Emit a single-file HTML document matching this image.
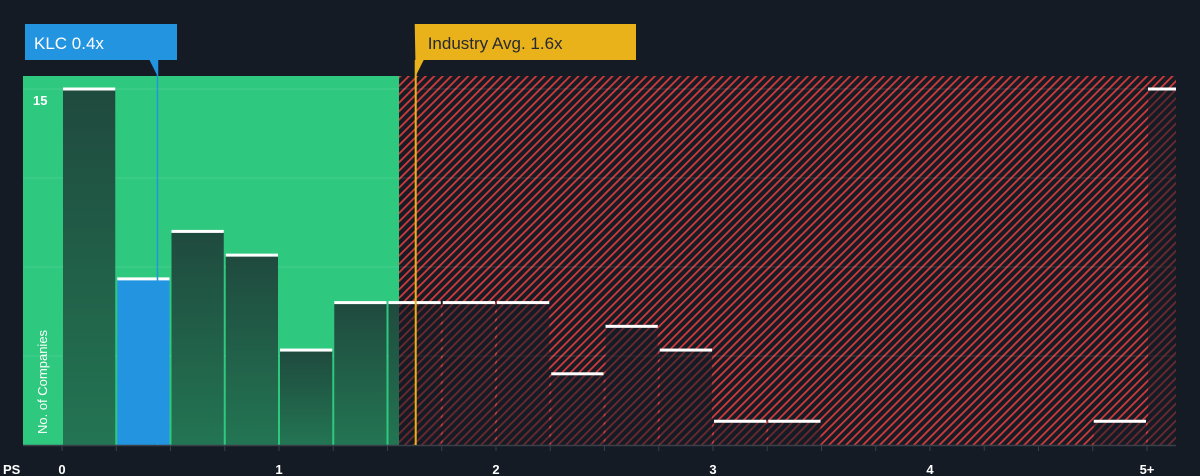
<!DOCTYPE html>
<html><head><meta charset="utf-8"><style>
html,body{margin:0;padding:0;background:#151b24;}
svg{display:block;font-family:"Liberation Sans",sans-serif;}
</style></head><body>
<svg id="chart" width="1200" height="476" viewBox="0 0 1200 476">
<defs>
<pattern id="hatch" patternUnits="userSpaceOnUse" width="6" height="6" patternTransform="rotate(45)">
<rect width="6" height="6" fill="#161b24"/>
<rect x="0" y="0" width="1.8" height="6" fill="#d23b3d"/>
</pattern>
<linearGradient id="barg" x1="0" y1="0" x2="0" y2="1">
<stop offset="0" stop-color="#1f4a3e"/><stop offset="1" stop-color="#237553"/>
</linearGradient>
</defs>
<g id="bg"></g>
<g id="grid"></g>
<g id="bars"></g>
<g id="axis"></g>
<g id="markers"></g>
</svg>
<script>
const binStarts=[0,0.25,0.5,0.75,1,1.25,1.5,1.75,2,2.25,2.5,2.75,3,3.25,3.5,3.75,4,4.25,4.5,4.75,5];
const counts=[15,7,9,8,4,6,6,6,6,3,5,4,1,1,0,0,0,0,0,1,15];
const xTicks=[0,1,2,3,4,5];
const xTickLabels=["0","1","2","3","4","5+"];
const companyValue=0.44;
const companyLabel="KLC 0.4x";
const industryAvg=1.63;
const industryLabel="Industry Avg. 1.6x";
const fairLimit=1.553;
const yMax=15;

const NS="http://www.w3.org/2000/svg";
const plotLeft=23,plotRight=1176,plotTop=76,plotBase=445;
const x0=62,pxPerUnit=217;
const X=v=>x0+v*pxPerUnit;
const Y=v=>plotBase-v*(plotBase-89)/yMax;
function mk(tag,attrs,parent){const e=document.createElementNS(NS,tag);for(const k in attrs)e.setAttribute(k,attrs[k]);parent.appendChild(e);return e;}
const gBg=document.getElementById('bg'),gGrid=document.getElementById('grid'),gBars=document.getElementById('bars'),gAxis=document.getElementById('axis'),gMarkers=document.getElementById('markers');

let r=mk('rect',{x:plotLeft,y:plotTop,width:X(fairLimit)-plotLeft,height:plotBase-plotTop,fill:'#2ec97e'},gBg);


r=mk('rect',{x:X(fairLimit),y:plotTop,width:plotRight-X(fairLimit),height:plotBase-plotTop,fill:'url(#hatch)'},gBg);



for(let k=1;k<=4;k++){
  const l=mk('line',{x1:plotLeft,x2:plotRight,y1:Y(yMax*k/4),y2:Y(yMax*k/4),stroke:'rgba(255,255,255,0.12)','stroke-width':1},gGrid);
  
  
}
let t=mk('text',{x:33,y:105,fill:'#fff','font-size':13,'font-weight':'bold'},gGrid);t.textContent=String(yMax);


t=mk('text',{x:0,y:0,fill:'#fff','font-size':13,transform:'translate(47,434) rotate(-90)'},gGrid);t.textContent="No. of Companies";



const bw=0.25*pxPerUnit;
counts.forEach((c,i)=>{
  if(c<=0)return;
  const xs=X(binStarts[i])+1, xe=Math.min(X(binStarts[i])+bw-1,plotRight);
  const w=xe-xs;
  const isCo=companyValue>=binStarts[i]&&companyValue<binStarts[i]+0.25;
  let fill;
  if(isCo)fill='#2394e0';else if(X(binStarts[i])+bw<=X(fairLimit)+2)fill='url(#barg)';else fill='rgba(22,27,36,0.55)';
  let bwid=w;
  const straddle=!isCo && X(binStarts[i])<X(fairLimit) && X(binStarts[i])+bw>X(fairLimit)+2;
  if(straddle){fill='url(#barg)';bwid=X(fairLimit)-xs;}
  const b=mk('rect',{x:xs,y:Y(c),width:bwid,height:plotBase-Y(c),fill:fill},gBars);
  
  
  if(straddle){
    const b2=mk('rect',{x:X(fairLimit),y:Y(c),width:xe-X(fairLimit),height:plotBase-Y(c),fill:'rgba(22,27,36,0.55)'},gBars);
    
    
  }
  const cap=mk('rect',{x:xs,y:Y(c)-1.5,width:w,height:3,fill:'#fff'},gBars);
  
  
});

let al=mk('line',{x1:plotLeft,x2:plotRight,y1:plotBase+0.5,y2:plotBase+0.5,stroke:'#3a404a','stroke-width':1.5},gAxis);


for(let v=0;v<=5.001;v+=0.25){
  const tk=mk('line',{x1:X(v),x2:X(v),y1:plotBase,y2:plotBase+6,stroke:'#3a404a','stroke-width':1},gAxis);
  
  
}
t=mk('text',{x:3,y:474,fill:'#fff','font-size':13,'font-weight':'bold'},gAxis);t.textContent="PS";


xTicks.forEach((v,i)=>{
  const tl=mk('text',{x:X(v),y:474,fill:'#fff','font-size':13,'font-weight':'bold','text-anchor':'middle'},gAxis);
  tl.textContent=xTickLabels[i];
  
  
});

const cx=X(companyValue);
let ln=mk('line',{x1:cx,x2:cx,y1:60,y2:plotBase,stroke:'#2394e0','stroke-width':1.5},gMarkers);


let p=mk('path',{d:`M25,24 H177 V60 H${cx} V76 L${cx-8},60 H25 Z`,fill:'#2394e0'},gMarkers);


t=mk('text',{x:34,y:49,fill:'#fff','font-size':17},gMarkers);t.textContent=companyLabel;



const ix=X(industryAvg);
ln=mk('line',{x1:ix,x2:ix,y1:60,y2:plotBase,stroke:'#e9b21b','stroke-width':2},gMarkers);


p=mk('path',{d:`M${ix-1},24 H636 V60 H${ix+8} L${ix},76 Z`,fill:'#e9b21b'},gMarkers);


t=mk('text',{x:ix+12,y:49,fill:'#262a30','font-size':17},gMarkers);t.textContent=industryLabel;


</script>
</body></html>
